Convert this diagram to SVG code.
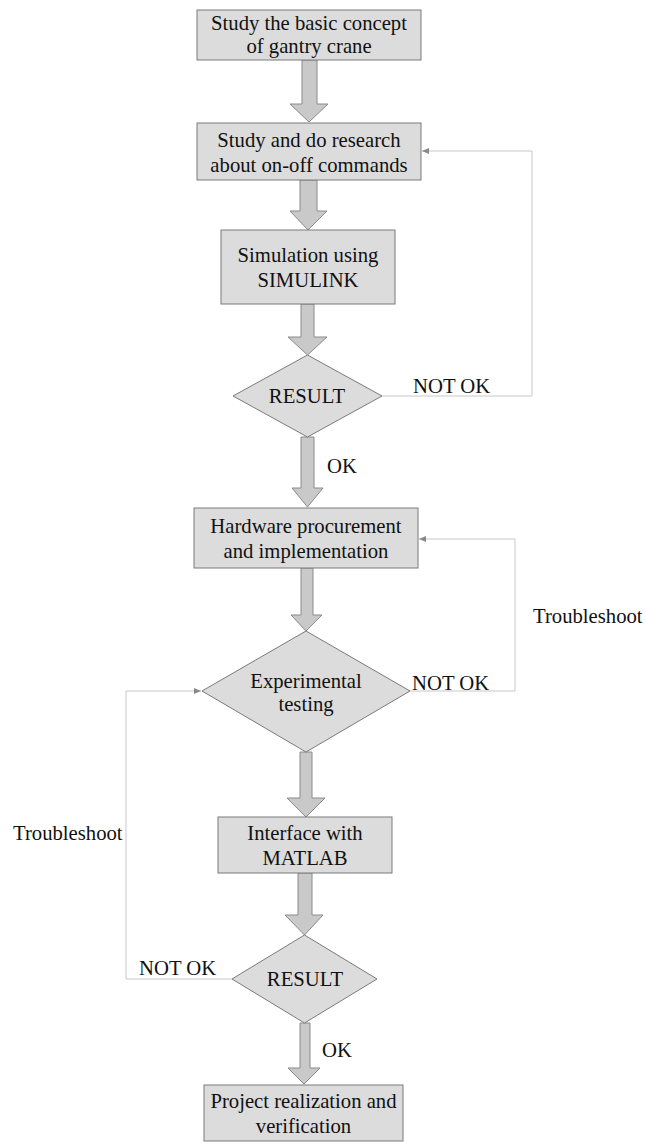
<svg xmlns="http://www.w3.org/2000/svg" width="646" height="1142" viewBox="0 0 646 1142">
<style>
.box{fill:#dcdcdc;stroke:#7a7a7a;stroke-width:1}
.blk{fill:#c9c9c9;stroke:#8a8a8a;stroke-width:1}
.fb{fill:none;stroke:#c8c8c8;stroke-width:1}
text{font-family:"Liberation Serif","Times New Roman",serif;font-size:20.7px;fill:#111}
.c{text-anchor:middle}
</style>
<defs>
<marker id="ah" markerWidth="8" markerHeight="8" refX="7" refY="4" orient="auto" markerUnits="userSpaceOnUse">
<path d="M0,1 L7,4 L0,7 Z" fill="#888"/>
</marker>
</defs>
<rect width="646" height="1142" fill="#fff"/>
<g id="connectors">
<path class="blk" d="M302,60 H317 V104 H328 L309,122 L290,104 H302 Z"/>
<path class="blk" d="M300,180 H317 V211 H327 L308,230 L290,211 H300 Z"/>
<path class="blk" d="M301,304 H314 V337 H327 L307.5,355 L288,337 H301 Z"/>
<path class="blk" d="M301,437 H314 V488 H323 L307.5,507 L292,488 H301 Z"/>
<path class="blk" d="M301,568 H313 V615 H322 L306,631 L291,615 H301 Z"/>
<path class="blk" d="M300,752 H312 V798 H325 L306,817 L287,798 H300 Z"/>
<path class="blk" d="M298,873 H312 V915 H323 L304.5,935 L285,915 H298 Z"/>
<path class="blk" d="M300,1023 H310 V1068 H320 L304,1084 L288,1068 H300 Z"/>
<polyline class="fb" points="382,396 532,396 532,151 422,151" marker-end="url(#ah)"/>
<polyline class="fb" points="410,691 515,691 515,539 419,539" marker-end="url(#ah)"/>
<polyline class="fb" points="232,979 126,979 126,691 201,691" marker-end="url(#ah)"/>
<text x="413" y="393">NOT OK</text>
<text x="327" y="473">OK</text>
<text x="412" y="690">NOT OK</text>
<text x="533" y="623">Troubleshoot</text>
<text x="13" y="840">Troubleshoot</text>
<text x="139" y="975">NOT OK</text>
<text x="322" y="1057">OK</text>
</g>
<g id="n1"><rect class="box" x="197" y="10" width="224" height="50"/>
<text class="c" x="309" y="30">Study the basic concept</text>
<text class="c" x="309" y="53">of gantry crane</text></g>
<g id="n2"><rect class="box" x="197" y="123" width="224" height="57"/>
<text class="c" x="309" y="147">Study and do research</text>
<text class="c" x="309" y="172">about on-off commands</text></g>
<g id="n3"><rect class="box" x="221" y="230" width="174" height="74"/>
<text class="c" x="308" y="262">Simulation using</text>
<text class="c" x="308" y="287">SIMULINK</text></g>
<g id="d1"><polygon class="box" points="307.5,355 382,396 307.5,437 233,396"/>
<text class="c" x="307" y="403">RESULT</text></g>
<g id="n4"><rect class="box" x="194" y="508" width="224" height="60"/>
<text class="c" x="306" y="533">Hardware procurement</text>
<text class="c" x="306" y="558">and implementation</text></g>
<g id="d2"><polygon class="box" points="306,631 410,691 306,752 202,691"/>
<text class="c" x="306" y="688">Experimental</text>
<text class="c" x="306" y="711">testing</text></g>
<g id="n5"><rect class="box" x="218" y="817" width="174" height="56"/>
<text class="c" x="305" y="840">Interface with</text>
<text class="c" x="305" y="865">MATLAB</text></g>
<g id="d3"><polygon class="box" points="304.5,935 377,979 304.5,1023 232,979"/>
<text class="c" x="305" y="986">RESULT</text></g>
<g id="n6"><rect class="box" x="204" y="1085" width="199" height="56"/>
<text class="c" x="303.5" y="1108">Project realization and</text>
<text class="c" x="303.5" y="1133">verification</text></g>
</svg>
